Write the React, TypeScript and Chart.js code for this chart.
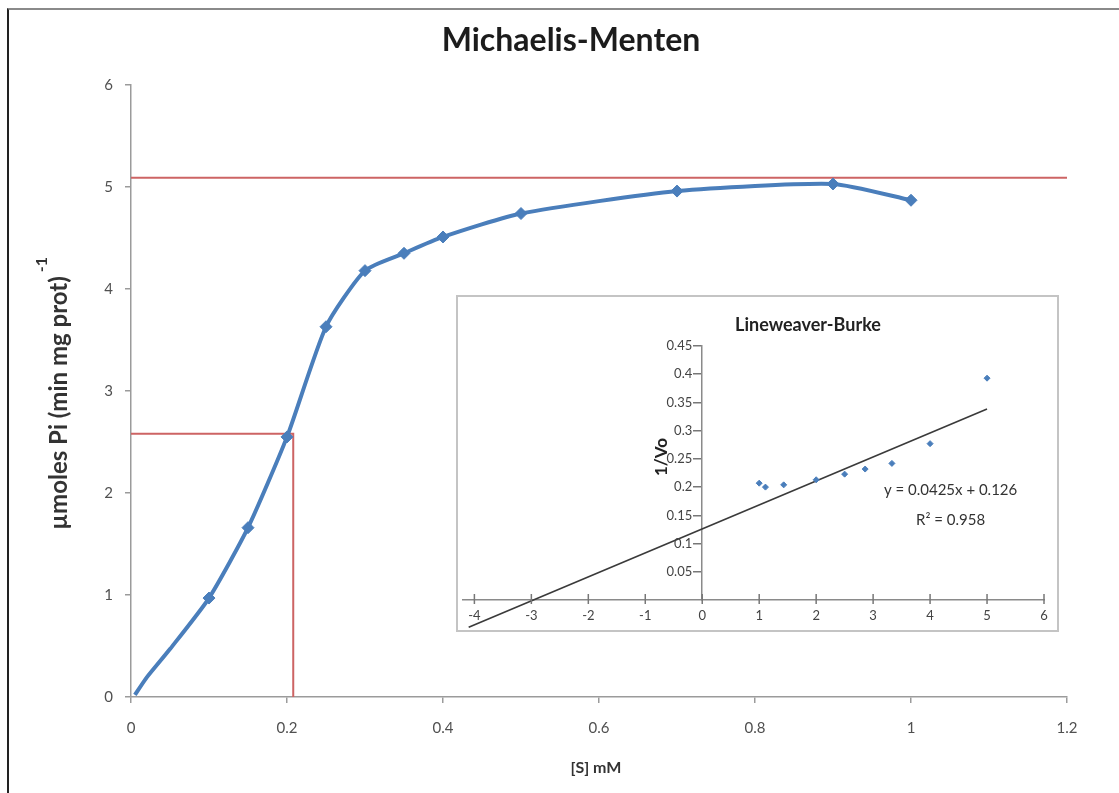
import { useEffect, useRef } from "react";
import { Chart, registerables } from "chart.js";

Chart.register(...registerables);

// Michaelis-Menten measurements: substrate (mM) vs. velocity (µmol Pi / min / mg protein)
const substrateMM = [0.005, 0.02, 0.05, 0.1, 0.15, 0.2, 0.25, 0.3, 0.35, 0.4, 0.5, 0.7, 0.9, 1.0];
const velocity = [0.02, 0.19, 0.47, 0.97, 1.66, 2.55, 3.63, 4.18, 4.35, 4.51, 4.74, 4.96, 5.03, 4.87];
const vmax = 5.09;
const halfVmax = 2.58;
const km = 0.208;
const mainXTicks = [0, 0.2, 0.4, 0.6, 0.8, 1, 1.2];
const mainYTicks = [0, 1, 2, 3, 4, 5, 6];

// Lineweaver-Burke double reciprocal values
const invSubstrate = [1, 1.11, 1.43, 2, 2.5, 2.86, 3.33, 4, 5];
const invVelocity = [0.207, 0.2, 0.204, 0.213, 0.223, 0.232, 0.242, 0.277, 0.393];
const fitSlope = 0.0425;
const fitIntercept = 0.126;
const rSquared = 0.958;
const fitRange = [-4.1, 5];
const insetXTicks = [-4, -3, -2, -1, 0, 1, 2, 3, 4, 5, 6];
const insetYTicks = [0.05, 0.1, 0.15, 0.2, 0.25, 0.3, 0.35, 0.4, 0.45];

const FONT = "Lato, 'Open Sans', sans-serif";
const BLUE = "#4a7ebb";
const RED = "#cd6464";
const AXIS = "#9b9b9b";
const TICK_TEXT = "#505050";

const mainTextPlugin = {
  id: "mainText",
  afterDraw(chart: Chart) {
    const ctx = chart.ctx;
    ctx.save();
    ctx.fillStyle = "#1c1c1c";
    ctx.textAlign = "center";
    ctx.textBaseline = "middle";
    ctx.font = `bold 32px ${FONT}`;
    ctx.fillText("Michaelis-Menten", 571, 41);

    ctx.fillStyle = "#333333";
    ctx.font = `bold 16px ${FONT}`;
    ctx.fillText("[S] mM", 596, 768);

    // rotated y title with superscript exponent
    ctx.translate(59, 403);
    ctx.rotate(-Math.PI / 2);
    ctx.font = `bold 24px ${FONT}`;
    const label = "µmoles Pi (min mg prot)";
    const w = ctx.measureText(label).width;
    ctx.fillText(label, 0, 0);
    ctx.font = `bold 16px ${FONT}`;
    ctx.textAlign = "left";
    ctx.fillText("-1", w / 2 + 4, -17);
    ctx.restore();
  },
};

const insetTextPlugin = {
  id: "insetText",
  afterDraw(chart: Chart) {
    const ctx = chart.ctx;
    const xs = chart.scales.x;
    const ys = chart.scales.y;
    const x0 = xs.getPixelForValue(0);
    const y0 = ys.getPixelForValue(0);
    ctx.save();
    // y tick labels beside the tick marks of the centred axis
    ctx.fillStyle = "#444444";
    ctx.font = `13px ${FONT}`;
    ctx.textAlign = "right";
    ctx.textBaseline = "middle";
    insetYTicks.forEach((v) => {
      ctx.fillText(String(v), x0 - 10, ys.getPixelForValue(v));
    });
    // cross tick marks on the x axis
    ctx.strokeStyle = "#777777";
    ctx.lineWidth = 1.5;
    insetXTicks.forEach((v) => {
      const px = xs.getPixelForValue(v);
      ctx.beginPath();
      ctx.moveTo(px, y0 - 6);
      ctx.lineTo(px, y0 + 4);
      ctx.stroke();
    });
    // titles
    ctx.fillStyle = "#222222";
    ctx.textAlign = "center";
    ctx.font = `bold 18px ${FONT}`;
    ctx.fillText("Lineweaver-Burke", 350, 28);
    ctx.save();
    ctx.translate(204, 160);
    ctx.rotate(-Math.PI / 2);
    ctx.font = `bold 17px ${FONT}`;
    ctx.fillText("1/Vo", 0, 0);
    ctx.restore();
    // trendline equation
    ctx.fillStyle = "#333333";
    ctx.font = `15px ${FONT}`;
    const ex = xs.getPixelForValue(4.36);
    ctx.fillText(`y = ${fitSlope}x + ${fitIntercept}`, ex, ys.getPixelForValue(0.195));
    ctx.fillText(`R² = ${rSquared}`, ex, ys.getPixelForValue(0.142));
    ctx.restore();
  },
};

export default function App() {
  const mainRef = useRef<HTMLCanvasElement>(null);
  const insetRef = useRef<HTMLCanvasElement>(null);

  useEffect(() => {
    const tickFont = { family: FONT, size: 15 };

    const main = new Chart(mainRef.current as HTMLCanvasElement, {
      type: "line",
      data: {
        datasets: [
          {
            label: "Velocity",
            data: substrateMM.map((s, i) => ({ x: s, y: velocity[i] })),
            borderColor: BLUE,
            backgroundColor: BLUE,
            borderWidth: 4,
            tension: 0.2,
            pointStyle: "rectRot",
            pointRadius: (c: any) => (c.dataIndex < 3 ? 0 : 6),
            pointBackgroundColor: BLUE,
            pointBorderColor: BLUE,
            pointBorderWidth: 1,
          },
          {
            label: "Vmax",
            data: [
              { x: 0, y: vmax },
              { x: 1.2, y: vmax },
            ],
            borderColor: RED,
            borderWidth: 2,
            pointRadius: 0,
          },
          {
            label: "Km",
            data: [
              { x: 0, y: halfVmax },
              { x: km, y: halfVmax },
              { x: km, y: 0 },
            ],
            borderColor: RED,
            borderWidth: 2,
            pointRadius: 0,
          },
        ],
      },
      options: {
        responsive: false,
        animation: false,
        layout: { padding: { left: 0, top: 85, right: 52, bottom: 0 } },
        plugins: {
          legend: { display: false },
          tooltip: { enabled: false },
          title: { display: false },
        },
        scales: {
          x: {
            type: "linear",
            min: 0,
            max: 1.2,
            afterBuildTicks: (s: any) => {
              s.ticks = mainXTicks.map((v) => ({ value: v }));
            },
            afterFit: (s: any) => {
              s.height = 96;
            },
            grid: { drawOnChartArea: false, tickLength: 6, color: AXIS, lineWidth: 1.5 },
            border: { color: AXIS, width: 1.5 },
            ticks: { font: tickFont, color: TICK_TEXT, padding: 16, callback: (v: any) => String(v) },
          },
          y: {
            type: "linear",
            min: 0,
            max: 6,
            afterBuildTicks: (s: any) => {
              s.ticks = mainYTicks.map((v) => ({ value: v }));
            },
            afterFit: (s: any) => {
              s.width = 131;
            },
            grid: { drawOnChartArea: false, tickLength: 6, color: AXIS, lineWidth: 1.5 },
            border: { color: AXIS, width: 1.5 },
            ticks: { font: tickFont, color: TICK_TEXT, padding: 12, callback: (v: any) => String(v) },
          },
        },
      },
      plugins: [mainTextPlugin],
    } as any);

    const inset = new Chart(insetRef.current as HTMLCanvasElement, {
      type: "scatter",
      data: {
        datasets: [
          {
            type: "scatter",
            label: "1/Vo",
            data: invSubstrate.map((s, i) => ({ x: s, y: invVelocity[i] })),
            pointStyle: "rectRot",
            pointRadius: 3,
            backgroundColor: BLUE,
            borderColor: BLUE,
          },
          {
            type: "line",
            label: "Linear fit",
            data: fitRange.map((x) => ({ x, y: fitSlope * x + fitIntercept })),
            borderColor: "#3a3a3a",
            borderWidth: 1.6,
            pointRadius: 0,
            clip: false,
          },
        ],
      },
      options: {
        responsive: false,
        animation: false,
        layout: { padding: { left: 1, top: 49, right: 13, bottom: 0 } },
        plugins: {
          legend: { display: false },
          tooltip: { enabled: false },
          title: { display: false },
        },
        scales: {
          x: {
            type: "linear",
            min: -4.2,
            max: 6,
            position: "bottom",
            afterBuildTicks: (s: any) => {
              s.ticks = insetXTicks.map((v) => ({ value: v }));
            },
            afterFit: (s: any) => {
              s.height = 30;
            },
            grid: { drawOnChartArea: false, drawTicks: false },
            border: { color: "#8a8a8a", width: 1.5 },
            ticks: { font: { family: FONT, size: 13 }, color: "#444444", padding: 8, callback: (v: any) => String(v) },
          },
          y: {
            type: "linear",
            min: 0,
            max: 0.45,
            position: { x: 0 },
            afterBuildTicks: (s: any) => {
              s.ticks = insetYTicks.map((v) => ({ value: v }));
            },
            grid: { drawOnChartArea: false, tickLength: 8, color: "#777777", lineWidth: 1.5 },
            border: { color: "#8a8a8a", width: 1.5 },
            ticks: { display: false },
          },
        },
      },
      plugins: [insetTextPlugin],
    } as any);

    return () => {
      main.destroy();
      inset.destroy();
    };
  }, []);

  return (
    <div>
      <div
        style={{
          position: "fixed",
          left: 7,
          top: 8,
          right: 0,
          bottom: 0,
          borderLeft: "2px solid #222222",
          borderTop: "2px solid #8a8a8a",
          background: "#ffffff",
        }}
      />
      <canvas
        ref={mainRef}
        width={1119}
        height={793}
        style={{ position: "fixed", left: 0, top: 0, width: 1119, height: 793 }}
      />
      <div
        style={{
          position: "fixed",
          left: 456,
          top: 295,
          width: 603,
          height: 337,
          boxSizing: "border-box",
          border: "2px solid #c4c4c4",
          background: "#ffffff",
        }}
      >
        <canvas
          ref={insetRef}
          width={599}
          height={333}
          style={{ position: "absolute", left: 0, top: 0, width: 599, height: 333 }}
        />
      </div>
    </div>
  );
}
